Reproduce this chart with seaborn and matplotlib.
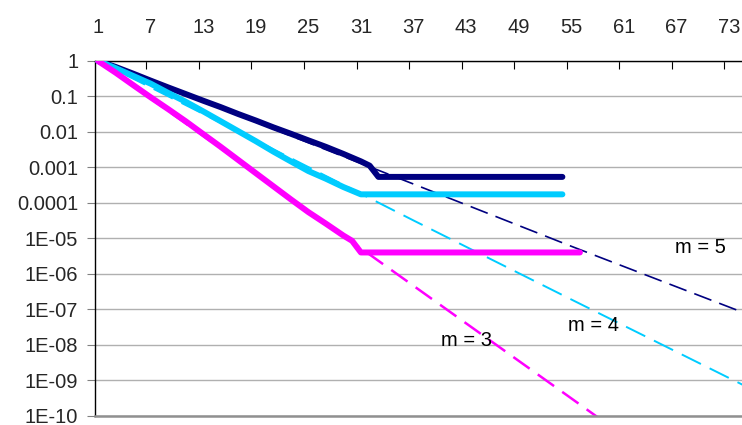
import numpy as np
import pandas as pd
import matplotlib
matplotlib.use("Agg")
import matplotlib.pyplot as plt
from matplotlib.ticker import FixedLocator, FixedFormatter, NullLocator
import seaborn as sns

# ---------------- data ----------------
x_ticks = [1, 7, 13, 19, 25, 31, 37, 43, 49, 55, 61, 67, 73]
y_ticks = [1, 1e-1, 1e-2, 1e-3, 1e-4, 1e-5, 1e-6, 1e-7, 1e-8, 1e-9, 1e-10]
y_tick_labels = ["1", "0.1", "0.01", "0.001", "0.0001", "1E-05", "1E-06",
                 "1E-07", "1E-08", "1E-09", "1E-10"]

# solid (observed) curves
m5_x = [1, 3, 5, 7, 9, 11, 13, 15, 17, 19, 21, 23, 25, 27, 29, 31, 32, 33, 54]
m5_y = [1, 0.68, 0.44, 0.28, 0.18, 0.117, 0.076, 0.050, 0.032, 0.021, 0.0135,
        0.0089, 0.0058, 0.0038, 0.0024, 0.00148, 0.00112, 0.00054, 0.00054]

m4_x = [1, 3, 5, 7, 9, 11, 13, 15, 17, 19, 21, 23, 25, 27, 29, 31, 54]
m4_y = [1, 0.63, 0.38, 0.23, 0.126, 0.071, 0.038, 0.020, 0.0105, 0.0055,
        0.0028, 0.00148, 0.00079, 0.00048, 0.00028, 0.000174, 0.000174]

m3_x = [1, 3, 5, 7, 9, 11, 13, 15, 17, 19, 21, 23, 25, 27, 29, 30, 31, 56]
m3_y = [1, 0.47, 0.21, 0.095, 0.044, 0.020, 0.0087, 0.0038, 0.00162, 0.00069,
        0.000295, 0.000126, 5.5e-5, 2.6e-5, 1.2e-5, 8.5e-6, 4.0e-6, 4.0e-6]

# dashed (theoretical) curves
m5_th_x = [1, 19, 37, 55, 75]
m5_th_y = [1, 0.019, 3.4e-4, 6.0e-6, 7.5e-8]
m4_th_x = [1, 19, 37, 55, 75]
m4_th_y = [1, 0.0058, 3.2e-5, 1.9e-7, 6.6e-10]
m3_th_x = [1, 19, 37, 55, 61]
m3_th_y = [1, 6.8e-4, 4.6e-7, 3.1e-10, 2.7e-11]

labels = ["m = 5", "m = 4", "m = 3"]
label_x = [69.8, 57.6, 43.0]
label_y = [5.6e-6, 3.4e-8, 1.35e-8]

navy = "#000080"
cyan = "#00CCFF"
magenta = "#FF00FF"

# ---------------- figure ----------------
sns.set_style("white")
plt.rcParams["font.family"] = ["Liberation Sans", "DejaVu Sans"]

fig = plt.figure(figsize=(7.42, 4.25), dpi=100)
ax = fig.add_axes([95 / 742, 9.3 / 425, 1 - 95 / 742, (415.7 - 61) / 425])
ax.set_yscale("log")

dash = (0, (11, 5))
sns.lineplot(x=m5_th_x, y=m5_th_y, ax=ax, color=navy, linewidth=1.2,
             linestyle=dash, zorder=2)
sns.lineplot(x=m4_th_x, y=m4_th_y, ax=ax, color=cyan, linewidth=1.4,
             linestyle=dash, zorder=2)
sns.lineplot(x=m3_th_x, y=m3_th_y, ax=ax, color=magenta, linewidth=1.8,
             linestyle=(0, (8, 4)), zorder=2)

sns.lineplot(x=m5_x, y=m5_y, ax=ax, color=navy, linewidth=4.3, zorder=3,
             solid_capstyle="round", solid_joinstyle="round")
sns.lineplot(x=m4_x, y=m4_y, ax=ax, color=cyan, linewidth=4.3, zorder=3,
             solid_capstyle="round", solid_joinstyle="round")
sns.lineplot(x=m3_x, y=m3_y, ax=ax, color=magenta, linewidth=4.3, zorder=3,
             solid_capstyle="round", solid_joinstyle="round")

for t, tx, ty in zip(labels, label_x, label_y):
    ax.text(tx, ty, t, fontsize=14.5, ha="center", va="center", color="black")

ax.set_xlim(0.65, 74.5)
ax.set_ylim(1e-10, 1)

# y axis
ax.yaxis.set_major_locator(FixedLocator(y_ticks))
ax.yaxis.set_major_formatter(FixedFormatter(y_tick_labels))
ax.yaxis.set_minor_locator(NullLocator())
ax.tick_params(axis="y", which="major", direction="out", length=6, width=0.8,
               color="#808080", pad=6, labelsize=14.5, left=True)

# x axis on top
ax.xaxis.tick_top()
ax.xaxis.set_major_locator(FixedLocator(x_ticks))
ax.xaxis.set_major_formatter(FixedFormatter([str(v) for v in x_ticks]))
ax.xaxis.set_minor_locator(FixedLocator([v + 5.5 for v in x_ticks[:-1]]))
ax.tick_params(axis="x", which="major", length=0, pad=17.5, labelsize=14.5,
               top=True, bottom=False)
ax.tick_params(axis="x", which="minor", direction="in", length=6, width=0.8,
               color="black", top=True, bottom=False)

ax.set_xlabel("")
ax.set_ylabel("")
ax.yaxis.grid(True, color="#B0B0B0", linewidth=1.0)
ax.xaxis.grid(False)
ax.set_axisbelow(True)

for s in ["top", "left"]:
    ax.spines[s].set_color("black")
    ax.spines[s].set_linewidth(1.0)
ax.spines["bottom"].set_color("#909090")
ax.spines["bottom"].set_linewidth(1.8)
ax.spines["right"].set_visible(False)

fig.savefig("out.png", dpi=100)
